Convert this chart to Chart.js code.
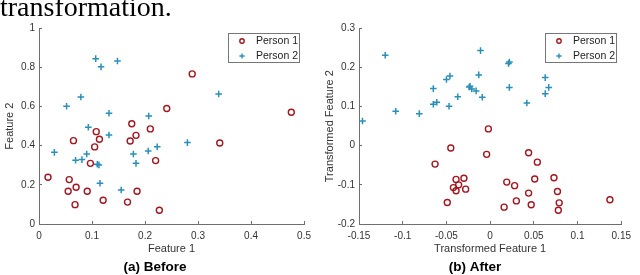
<!DOCTYPE html>
<html>
<head>
<meta charset="utf-8">
<script src="https://cdn.jsdelivr.net/npm/chart.js@4/dist/chart.umd.min.js"></script>
<style>
  html, body { margin: 0; padding: 0; background: #fff; width: 640px; height: 275px; overflow: hidden; }
  .pane { position: absolute; top: 0; width: 320px; height: 275px; }
  #topText { position: absolute; left: 0; top: -6.7px; font-family: "Liberation Serif", "Times New Roman", serif; font-size: 28px; line-height: 28px; color: #000; white-space: nowrap; z-index: 5; }
</style>
</head>
<body>
<div id="topText">transformation.</div>
<div class="pane" style="left:0"><canvas id="c1" width="320" height="275"></canvas></div>
<div class="pane" style="left:320px"><canvas id="c2" width="320" height="275"></canvas></div>
<script>
// ---- Data ----
const seriesNames = ["Person 1", "Person 2"];

const beforeP1X = [0.289,0.241,0.476,0.175,0.108,0.210,0.183,0.114,0.065,0.105,0.172,0.341,0.220,0.097,0.017,0.057,0.055,0.070,0.091,0.185,0.121,0.167,0.068,0.227];
const beforeP1Y = [0.767,0.590,0.571,0.512,0.472,0.486,0.453,0.433,0.426,0.394,0.424,0.414,0.324,0.310,0.239,0.227,0.167,0.188,0.167,0.167,0.121,0.112,0.099,0.070];
const beforeP2X = [0.107,0.117,0.148,0.079,0.052,0.132,0.339,0.207,0.093,0.132,0.029,0.090,0.069,0.081,0.110,0.113,0.178,0.183,0.206,0.223,0.280,0.115,0.155];
const beforeP2Y = [0.845,0.803,0.833,0.649,0.602,0.566,0.664,0.552,0.494,0.455,0.366,0.358,0.326,0.329,0.305,0.302,0.358,0.310,0.373,0.395,0.416,0.208,0.174];

const afterP1X = [-0.002,-0.045,-0.004,-0.063,0.044,0.054,-0.039,-0.030,-0.036,-0.042,-0.039,-0.028,-0.049,0.019,0.028,0.051,0.044,0.030,0.016,0.047,0.073,0.077,0.079,0.078,0.137];
const afterP1Y = [0.043,-0.006,-0.022,-0.047,-0.018,-0.042,-0.086,-0.083,-0.100,-0.107,-0.115,-0.111,-0.145,-0.093,-0.102,-0.085,-0.121,-0.141,-0.157,-0.151,-0.082,-0.117,-0.146,-0.165,-0.138];
const afterP2X = [-0.146,-0.120,-0.108,-0.081,-0.065,-0.065,-0.061,-0.050,-0.046,-0.047,-0.037,-0.024,-0.023,-0.021,-0.016,-0.013,-0.011,-0.009,0.021,0.022,0.022,0.042,0.063,0.063,0.067];
const afterP2Y = [0.063,0.231,0.088,0.082,0.146,0.106,0.111,0.169,0.178,0.101,0.125,0.150,0.152,0.145,0.140,0.181,0.243,0.124,0.210,0.214,0.149,0.109,0.174,0.133,0.149];

const beforeXTicks = [0, 0.1, 0.2, 0.3, 0.4, 0.5];
const beforeYTicks = [0, 0.2, 0.4, 0.6, 0.8, 1];
const afterXTicks = [-0.15, -0.1, -0.05, 0, 0.05, 0.1, 0.15];
const afterYTicks = [-0.2, -0.1, 0, 0.1, 0.2, 0.3];

// ---- Styling ----
const RED = '#a3161f';
const BLUE = '#2b90b8';
const AXIS = '#6f6f6f';
const TEXT = '#333';
const FONT = "'Liberation Sans', Arial, Helvetica, sans-serif";

function pts(xs, ys) { return xs.map((x, i) => ({ x: x, y: ys[i] })); }

const boxLegend = {
  id: 'boxLegend',
  afterDraw(chart) {
    const ctx = chart.ctx, a = chart.chartArea;
    const w = 71, h = 29;
    const bx = Math.round(a.right - 5 - w) + 0.5, by = Math.round(a.top + 4.7) + 0.5;
    ctx.save();
    ctx.fillStyle = '#fff';
    ctx.fillRect(bx, by, w, h);
    ctx.strokeStyle = '#777';
    ctx.lineWidth = 1;
    ctx.strokeRect(bx, by, w, h);
    chart.data.datasets.forEach((ds, i) => {
      const cy = by + 7.5 + i * 15;
      const mx = bx + 13.5;
      ctx.strokeStyle = ds.borderColor;
      ctx.lineWidth = 1.4;
      ctx.beginPath();
      if (ds.pointStyle === 'circle') {
        ctx.arc(mx, cy, 2.2, 0, Math.PI * 2);
      } else {
        ctx.moveTo(mx - 2.6, cy); ctx.lineTo(mx + 2.6, cy);
        ctx.moveTo(mx, cy - 2.6); ctx.lineTo(mx, cy + 2.6);
      }
      ctx.stroke();
      ctx.fillStyle = '#222';
      ctx.font = "10.5px " + FONT;
      ctx.textBaseline = 'middle';
      ctx.textAlign = 'left';
      ctx.fillText(ds.label, bx + 27.5, cy + 0.5);
    });
    ctx.restore();
  }
};

function makeChart(id, p1x, p1y, p2x, p2y, xt, yt, xLabel, yLabel, caption) {
  const tickFmt = v => String(Math.round(v * 1000) / 1000);
  return new Chart(document.getElementById(id), {
    type: 'scatter',
    data: {
      datasets: [
        { label: seriesNames[0], data: pts(p1x, p1y), pointStyle: 'circle', pointRadius: 3, pointBorderWidth: 1.4,
          borderColor: RED, backgroundColor: 'rgba(255,255,255,0)', pointHoverRadius: 3, order: 1 },
        { label: seriesNames[1], data: pts(p2x, p2y), pointStyle: 'cross', pointRadius: 3.3, pointBorderWidth: 1.5,
          borderColor: BLUE, backgroundColor: BLUE, pointHoverRadius: 3.3, order: 0 }
      ]
    },
    options: {
      responsive: false,
      animation: false,
      devicePixelRatio: 1,
      layout: { padding: { top: 28.3, right: 10, bottom: 0, left: 0 } },
      plugins: {
        legend: { display: false },
        tooltip: { enabled: false },
        title: { display: true, text: caption, position: 'bottom', color: '#000',
                 font: { family: FONT, size: 13.5, weight: 'bold' }, padding: { top: 0, bottom: 0 } }
      },
      scales: {
        x: {
          type: 'linear', min: xt[0], max: xt[xt.length - 1],
          afterBuildTicks: s => { s.ticks = xt.map(v => ({ value: v })); },
          afterFit: s => { s.height = 34.8; },
          ticks: { callback: tickFmt, autoSkip: false, maxRotation: 0, padding: 9, color: TEXT, font: { family: FONT, size: 10 } },
          grid: { drawOnChartArea: false, drawTicks: true, tickLength: -3, color: AXIS, lineWidth: 1 },
          border: { display: true, color: AXIS, width: 1 },
          title: { display: true, text: xLabel, color: TEXT, font: { family: FONT, size: 11 }, padding: { top: 0, bottom: 3.2 } }
        },
        y: {
          type: 'linear', min: yt[0], max: yt[yt.length - 1],
          afterBuildTicks: s => { s.ticks = yt.map(v => ({ value: v })); },
          afterFit: s => { s.width = 39; },
          ticks: { callback: tickFmt, autoSkip: false, padding: 7, color: TEXT, font: { family: FONT, size: 10 } },
          grid: { drawOnChartArea: false, drawTicks: true, tickLength: -3, color: AXIS, lineWidth: 1 },
          border: { display: true, color: AXIS, width: 1 },
          title: { display: true, text: yLabel, color: TEXT, font: { family: FONT, size: 11 }, padding: { top: 3.4, bottom: 0 } }
        }
      }
    },
    plugins: [boxLegend]
  });
}

makeChart('c1', beforeP1X, beforeP1Y, beforeP2X, beforeP2Y, beforeXTicks, beforeYTicks,
          'Feature 1', 'Feature 2', '(a) Before');
makeChart('c2', afterP1X, afterP1Y, afterP2X, afterP2Y, afterXTicks, afterYTicks,
          'Transformed Feature 1', 'Transformed Feature 2', '(b) After');
</script>
</body>
</html>
